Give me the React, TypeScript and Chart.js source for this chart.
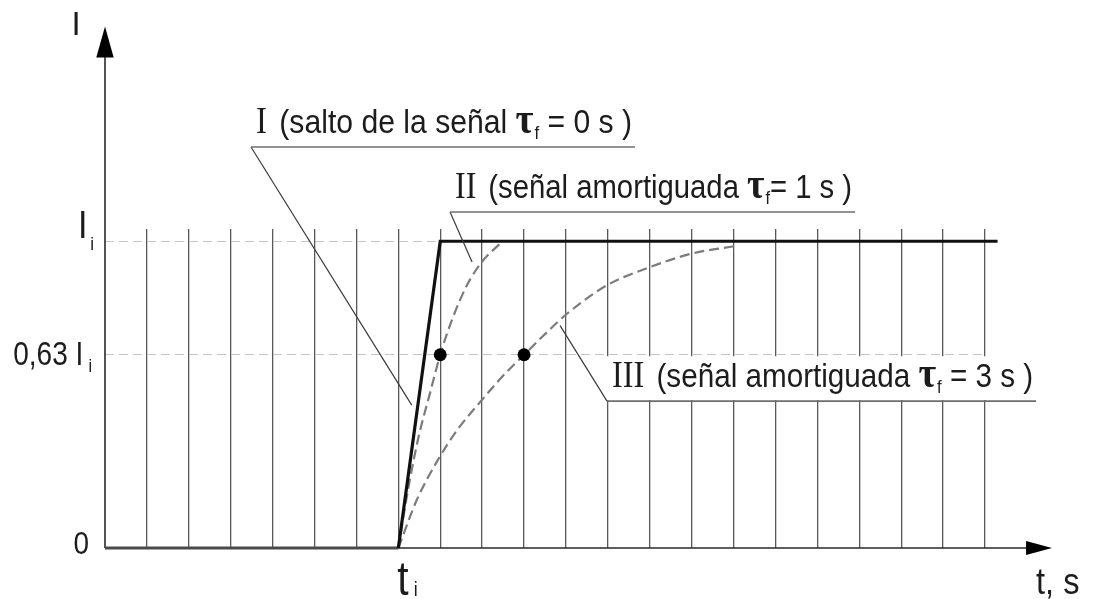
import React, { useEffect, useRef } from 'react';
import { Chart, registerables } from 'chart.js';

Chart.register(...registerables);

// Curve I: ideal step of the signal (tau_f = 0 s); time in s, current relative to I_i
const stepTime = [0, 7, 8, 21.3];
const stepCurrent = [0, 0, 1, 1];

// Curve II: damped signal, tau_f = 1 s
const damped1Time = [7, 7.245, 7.486, 7.764, 8, 8.286, 8.647, 9.007, 9.447];
const damped1Current = [0, 0.2, 0.364, 0.509, 0.63, 0.746, 0.859, 0.935, 0.995];

// Curve III: damped signal, tau_f = 3 s
const damped3Time = [7, 7.445, 7.966, 8.406, 8.966, 9.488, 10, 10.58, 11.01, 12.01, 13.01, 14.01, 15.06];
const damped3Current = [0, 0.158, 0.292, 0.385, 0.478, 0.56, 0.63, 0.708, 0.762, 0.859, 0.916, 0.96, 0.985];

// Time-constant markers: t_i + tau_f reaches 0,63 I_i
const markerTime = [8, 10];
const markerCurrent = [0.63, 0.63];

// Axes
const gridTimes = [1, 2, 3, 4, 5, 6, 7, 8, 9, 10, 11, 12, 13, 14, 15, 16, 17, 18, 19, 20, 21];
const switchTime = 7;
const yTickValues = [0, 0.63, 1];
const yTickLabels = ['0', '0,63 I', 'I'];
const yTickSubs = ['', 'i', 'i'];
const xTickLabel = 't';
const xTickSub = 'i';
const xTitle = 't, s';
const yTitle = 'I';

// Callouts
const calloutRoman = ['I', 'II', 'III'];
const calloutBody = ['(salto de la señal ', '(señal amortiguada ', '(señal amortiguada '];
const calloutTail = [' = 0 s )', '= 1 s )', ' = 3 s )'];
const calloutLineStart = [3.484, 8.234, 11.98];
const calloutLineEnd = [12.649, 17.9, 22.22];
const calloutLineLevel = [1.3075, 1.0955, 0.479];
const calloutPointTime = [7.32, 8.76, 10.86];
const calloutPointLevel = [0.466, 0.9325, 0.725];

const X_MAX = 21;
const Y_MAX = 1.04;
const X_ARROW_END = 22.6;
const Y_ARROW_END = 1.7;

const SANS = '"Liberation Sans", Arial, sans-serif';
const SERIF = '"Liberation Serif", "Times New Roman", serif';
const INK = '#1c1c1c';

type Part = { text: string; font: string; dy?: number; dx?: number };

function drawParts(
  ctx: CanvasRenderingContext2D,
  parts: Part[],
  x: number,
  baseline: number,
  align: 'left' | 'right',
  opts: { scaleX?: number; fitWidth?: number } = {}
) {
  ctx.save();
  ctx.textAlign = 'left';
  ctx.textBaseline = 'alphabetic';
  ctx.fillStyle = INK;
  let total = 0;
  const widths = parts.map((p) => {
    ctx.font = p.font;
    const w = ctx.measureText(p.text).width + (p.dx ?? 0);
    total += w;
    return w;
  });
  let sx = opts.scaleX ?? 1;
  if (opts.fitWidth) sx = opts.fitWidth / total;
  ctx.translate(x, baseline);
  ctx.scale(sx, 1);
  let cx = align === 'right' ? -total : 0;
  parts.forEach((p, i) => {
    ctx.font = p.font;
    ctx.fillText(p.text, cx + (p.dx ?? 0), p.dy ?? 0);
    cx += widths[i];
  });
  ctx.restore();
}

const diagramPlugin = {
  id: 'diagram',
  beforeDatasetsDraw(chart: any) {
    const { ctx, scales } = chart;
    const x = scales.x;
    const y = scales.y;
    ctx.save();

    // white panel behind callout III
    const lvl = y.getPixelForValue(calloutLineLevel[2]);
    const top = y.getPixelForValue(0.63) + 1.5;
    ctx.fillStyle = '#ffffff';
    ctx.fillRect(
      x.getPixelForValue(calloutLineStart[2]) - 4,
      top,
      x.getPixelForValue(calloutLineEnd[2]) - x.getPixelForValue(calloutLineStart[2]) + 8,
      lvl - top - 1
    );

    // axes with arrow heads
    const x0 = x.getPixelForValue(0);
    const y0 = y.getPixelForValue(0);
    const yTip = y.getPixelForValue(Y_ARROW_END);
    const xTip = x.getPixelForValue(X_ARROW_END);
    ctx.strokeStyle = '#2a2a2a';
    ctx.fillStyle = '#000';
    ctx.lineWidth = 1.6;
    ctx.beginPath();
    ctx.moveTo(x0, y0);
    ctx.lineTo(x0, yTip + 28);
    ctx.moveTo(x0, y0);
    ctx.lineTo(xTip - 24, y0);
    ctx.stroke();
    ctx.beginPath();
    ctx.moveTo(x0, yTip);
    ctx.lineTo(x0 - 8.7, yTip + 31);
    ctx.lineTo(x0 + 8.7, yTip + 31);
    ctx.closePath();
    ctx.fill();
    ctx.beginPath();
    ctx.moveTo(xTip, y0);
    ctx.lineTo(xTip - 26, y0 - 7);
    ctx.lineTo(xTip - 26, y0 + 7);
    ctx.closePath();
    ctx.fill();
    ctx.restore();
  },
  afterDatasetsDraw(chart: any) {
    const { ctx, scales } = chart;
    const x = scales.x;
    const y = scales.y;
    ctx.save();

    // callouts: leader, underline and text
    for (let i = 0; i < calloutRoman.length; i++) {
      const lx0 = x.getPixelForValue(calloutLineStart[i]);
      const lx1 = x.getPixelForValue(calloutLineEnd[i]);
      const ly = y.getPixelForValue(calloutLineLevel[i]);
      const px = x.getPixelForValue(calloutPointTime[i]);
      const py = y.getPixelForValue(calloutPointLevel[i]);
      ctx.strokeStyle = '#3a3a3a';
      ctx.lineWidth = 1.2;
      ctx.beginPath();
      ctx.moveTo(px, py);
      ctx.lineTo(lx0, ly);
      ctx.stroke();
      ctx.strokeStyle = '#6e6e6e';
      ctx.lineWidth = 1.6;
      ctx.beginPath();
      ctx.moveTo(lx0, ly);
      ctx.lineTo(lx1, ly);
      ctx.stroke();
      drawParts(
        ctx,
        [
          { text: calloutRoman[i], font: `37px ${SERIF}` },
          { text: calloutBody[i], font: `34px ${SANS}`, dx: 14 },
          { text: 'τ', font: `bold 44px ${SERIF}` },
          { text: 'f', font: `19px ${SANS}`, dy: 6, dx: 1 },
          { text: calloutTail[i], font: `34px ${SANS}` },
        ],
        lx0 + 5,
        ly - 14,
        'left',
        { fitWidth: lx1 - lx0 - 8 }
      );
    }

    // y tick labels
    const yStyles = [
      { size: 31, sub: 17, subDy: 0, subDx: 0, right: 89, dy: 6, sx: 0.9 },
      { size: 33, sub: 19, subDy: 7, subDx: 6, right: 92, dy: 10, sx: 0.85 },
      { size: 38, sub: 19, subDy: 12, subDx: 3, right: 94, dy: -3, sx: 0.9 },
    ];
    yTickValues.forEach((v, i) => {
      const st = yStyles[i];
      const parts: Part[] = [{ text: yTickLabels[i], font: `${st.size}px ${SANS}` }];
      if (yTickSubs[i]) parts.push({ text: yTickSubs[i], font: `${st.sub}px ${SANS}`, dy: st.subDy, dx: st.subDx });
      drawParts(ctx, parts, st.right, y.getPixelForValue(v) + st.dy, 'right', { scaleX: st.sx });
    });

    // x tick label t_i
    const y0 = y.getPixelForValue(0);
    drawParts(
      ctx,
      [
        { text: xTickLabel, font: `48px ${SANS}` },
        { text: xTickSub, font: `21px ${SANS}`, dy: 1, dx: 6 },
      ],
      x.getPixelForValue(switchTime) - 1,
      y0 + 47,
      'left',
      { scaleX: 0.85 }
    );

    // axis titles
    const xTip = x.getPixelForValue(X_ARROW_END);
    drawParts(ctx, [{ text: xTitle, font: `37px ${SANS}` }], xTip - 16, y0 + 46, 'left', { scaleX: 0.88 });
    const yTip = y.getPixelForValue(Y_ARROW_END);
    ctx.save();
    ctx.font = `33px ${SANS}`;
    ctx.fillStyle = INK;
    ctx.textAlign = 'center';
    ctx.fillText(yTitle, x.getPixelForValue(0) - 29, yTip + 8);
    ctx.restore();

    ctx.restore();
  },
};

const toPoints = (xs: number[], ys: number[]) => xs.map((v, i) => ({ x: v, y: ys[i] }));

export default function App() {
  const canvasRef = useRef<HTMLCanvasElement | null>(null);

  useEffect(() => {
    document.body.style.margin = '0';
    const canvas = canvasRef.current;
    if (!canvas) return;
    const chart = new Chart(canvas, {
      type: 'line',
      data: {
        datasets: [
          {
            label: 'markers',
            data: toPoints(markerTime, markerCurrent),
            showLine: false,
            pointRadius: 6.5,
            pointBackgroundColor: '#000',
            pointBorderColor: '#000',
            pointBorderWidth: 0,
          },
          {
            label: 'I',
            data: toPoints(stepTime, stepCurrent),
            borderColor: '#111',
            borderWidth: 3.2,
            borderJoinStyle: 'miter',
            pointRadius: 0,
            tension: 0,
            clip: false,
            segment: {
              borderColor: (c: any) => (c.p0DataIndex === 0 ? '#4a4a4a' : undefined),
              borderWidth: (c: any) => (c.p0DataIndex === 0 ? 2.8 : undefined),
            },
          } as any,
          {
            label: 'II',
            data: toPoints(damped1Time, damped1Current),
            borderColor: '#7c7c7c',
            borderWidth: 2.2,
            borderDash: [10, 5],
            pointRadius: 0,
            cubicInterpolationMode: 'monotone',
          },
          {
            label: 'III',
            data: toPoints(damped3Time, damped3Current),
            borderColor: '#7c7c7c',
            borderWidth: 2.2,
            borderDash: [10, 5],
            pointRadius: 0,
            cubicInterpolationMode: 'monotone',
          },
        ],
      },
      options: {
        animation: false,
        responsive: false,
        parsing: false as any,
        normalized: true,
        layout: { padding: { left: 105, right: 113, top: 229, bottom: 51 } },
        plugins: { legend: { display: false }, tooltip: { enabled: false } },
        scales: {
          x: {
            type: 'linear',
            min: 0,
            max: X_MAX,
            afterBuildTicks: (scale: any) => {
              scale.ticks = gridTimes.map((v) => ({ value: v }));
            },
            ticks: { display: false },
            grid: { color: 'rgba(60,60,60,0.85)', lineWidth: 1.3, drawTicks: false },
            border: { display: false },
          },
          y: {
            type: 'linear',
            min: 0,
            max: Y_MAX,
            afterBuildTicks: (scale: any) => {
              scale.ticks = yTickValues.filter((v) => v > 0).map((v) => ({ value: v }));
            },
            ticks: { display: false },
            grid: { color: '#c4c4c4', lineWidth: 1.1, drawTicks: false },
            border: { display: false, dash: [9, 5] },
          },
        },
      },
      plugins: [diagramPlugin],
    });
    return () => chart.destroy();
  }, []);

  return (
    <div style={{ position: 'fixed', left: 0, top: 0, width: 1098, height: 599, background: '#fff' }}>
      <canvas ref={canvasRef} width={1098} height={599} />
    </div>
  );
}
